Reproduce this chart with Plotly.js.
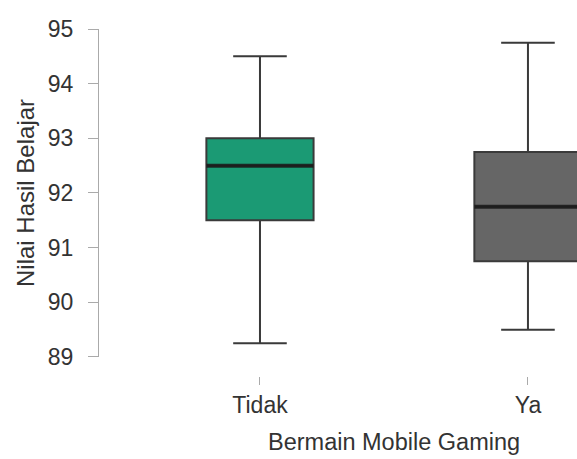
<!DOCTYPE html>
<html>
<head>
<meta charset="utf-8">
<script src="https://cdn.plot.ly/plotly-3.0.1.min.js"></script>
<style>html,body{margin:0;padding:0;background:#fff;}#chart{width:577px;height:459px;}</style>
</head>
<body>
<div id="chart"></div>
<script>
// Data
const categories = ["Tidak", "Ya"];
const lowerWhisker = [89.25, 89.5];
const q1 = [91.5, 90.75];
const median = [92.5, 91.75];
const q3 = [93.0, 92.75];
const upperWhisker = [94.5, 94.75];
const fillColors = ["#1b9a74", "#666666"];
const yTicks = [89, 90, 91, 92, 93, 94, 95];
const xTitle = "Bermain Mobile Gaming";
const yTitle = "Nilai Hasil Belajar";

const FONT = "Liberation Sans, Arial, sans-serif";
const BOX_WIDTH = 0.4;
const X_RANGE = [-0.6007, 1.183];

const boxTraces = categories.map((c, i) => ({
  type: "box",
  x: [c],
  q1: [q1[i]],
  median: [median[i]],
  q3: [q3[i]],
  lowerfence: [lowerWhisker[i]],
  upperfence: [upperWhisker[i]],
  fillcolor: fillColors[i],
  line: {color: "#3a3a3a", width: 2},
  width: BOX_WIDTH,
  whiskerwidth: 0.5,
  boxpoints: false,
  showlegend: false,
  hoverinfo: "skip"
}));

// thicker median bars, as in the reference (drawn on an overlaid numeric axis matching the category positions)
const medianTraces = categories.map((c, i) => ({
  type: "scatter",
  mode: "lines",
  xaxis: "x2",
  yaxis: "y",
  x: [i - BOX_WIDTH / 2, i + BOX_WIDTH / 2],
  y: [median[i], median[i]],
  line: {color: "rgba(25,25,25,0.85)", width: 4},
  showlegend: false,
  hoverinfo: "skip"
}));

const layout = {
  width: 577,
  height: 459,
  margin: {l: 99, r: 0, t: 29, b: 83, pad: 0},
  paper_bgcolor: "#ffffff",
  plot_bgcolor: "#ffffff",
  font: {family: FONT, color: "#333333", size: 23},
  xaxis: {
    type: "category",
    categoryorder: "array",
    categoryarray: categories,
    range: X_RANGE,
    anchor: "free",
    position: 0,
    showline: false,
    showgrid: false,
    zeroline: false,
    ticks: "outside",
    ticklen: 8,
    tickwidth: 1,
    tickcolor: "#aaaaaa",
    tickfont: {family: FONT, size: 23, color: "#333333"},
    fixedrange: true
  },
  xaxis2: {
    type: "linear",
    overlaying: "x",
    range: X_RANGE,
    visible: false,
    fixedrange: true
  },
  yaxis: {
    domain: [0.0548, 1],
    range: [89, 95],
    tickvals: yTicks,
    ticktext: yTicks.map(String),
    showline: true,
    linecolor: "#aaaaaa",
    linewidth: 1,
    showgrid: false,
    zeroline: false,
    ticks: "outside",
    ticklen: 10,
    tickwidth: 1,
    tickcolor: "#aaaaaa",
    ticklabelstandoff: 10,
    tickfont: {family: FONT, size: 23, color: "#333333"},
    title: {text: yTitle, font: {family: FONT, size: 24, color: "#333333"}, standoff: 6},
    automargin: false,
    fixedrange: true
  },
  annotations: [{
    text: xTitle,
    xref: "x",
    yref: "paper",
    x: 0.5,
    y: 0,
    yshift: -66,
    showarrow: false,
    xanchor: "center",
    yanchor: "middle",
    font: {family: FONT, size: 23.5, color: "#333333"}
  }]
};

Plotly.newPlot("chart", boxTraces.concat(medianTraces), layout, {displayModeBar: false, staticPlot: true});
</script>
</body>
</html>
